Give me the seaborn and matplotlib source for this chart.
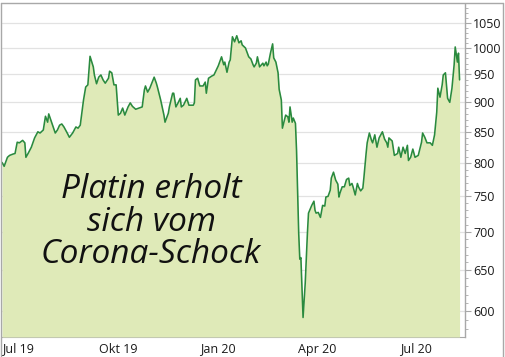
import matplotlib
matplotlib.use("Agg")
import matplotlib.pyplot as plt
import matplotlib.ticker as mticker
from matplotlib.lines import Line2D
import seaborn as sns
import pandas as pd
import numpy as np

dates = [
    "2019-06-16", "2019-06-18", "2019-06-21", "2019-06-23", "2019-06-26", "2019-06-28", "2019-06-30",
    "2019-07-02", "2019-07-05", "2019-07-07", "2019-07-08", "2019-07-10", "2019-07-13", "2019-07-16",
    "2019-07-19", "2019-07-21", "2019-07-24", "2019-07-26", "2019-07-28", "2019-07-29",
    "2019-08-01", "2019-08-04", "2019-08-06", "2019-08-08", "2019-08-10", "2019-08-12", "2019-08-15",
    "2019-08-17", "2019-08-20", "2019-08-23", "2019-08-25", "2019-08-27", "2019-08-30",
    "2019-09-01", "2019-09-03", "2019-09-05", "2019-09-08", "2019-09-09", "2019-09-11", "2019-09-13",
    "2019-09-15", "2019-09-17", "2019-09-19", "2019-09-22", "2019-09-23", "2019-09-25", "2019-09-27",
    "2019-09-29",
    "2019-10-01", "2019-10-03", "2019-10-05", "2019-10-07", "2019-10-10", "2019-10-12", "2019-10-14",
    "2019-10-17", "2019-10-20", "2019-10-23", "2019-10-25", "2019-10-26", "2019-10-28", "2019-10-30",
    "2019-11-03", "2019-11-05", "2019-11-06", "2019-11-09", "2019-11-12", "2019-11-13", "2019-11-16",
    "2019-11-17", "2019-11-20", "2019-11-21", "2019-11-23", "2019-11-25", "2019-11-27", "2019-11-28",
    "2019-11-30",
    "2019-12-03", "2019-12-05", "2019-12-09", "2019-12-10", "2019-12-11", "2019-12-13", "2019-12-15",
    "2019-12-18", "2019-12-20", "2019-12-21", "2019-12-23", "2019-12-26", "2019-12-28", "2019-12-31",
    "2020-01-01", "2020-01-04", "2020-01-06", "2020-01-07", "2020-01-09", "2020-01-11", "2020-01-12",
    "2020-01-14", "2020-01-16", "2020-01-18", "2020-01-20", "2020-01-22", "2020-01-23", "2020-01-26",
    "2020-01-29", "2020-01-31",
    "2020-02-02", "2020-02-03", "2020-02-05", "2020-02-06", "2020-02-08", "2020-02-11", "2020-02-12",
    "2020-02-14", "2020-02-15", "2020-02-16", "2020-02-18", "2020-02-20", "2020-02-21", "2020-02-23",
    "2020-02-25", "2020-02-26", "2020-02-28", "2020-02-29",
    "2020-03-03", "2020-03-05", "2020-03-06", "2020-03-07", "2020-03-09", "2020-03-10", "2020-03-12",
    "2020-03-13", "2020-03-14", "2020-03-15", "2020-03-16", "2020-03-17", "2020-03-19", "2020-03-21",
    "2020-03-23", "2020-03-24", "2020-03-27", "2020-03-29", "2020-03-30", "2020-03-31",
    "2020-04-02", "2020-04-04", "2020-04-06", "2020-04-08", "2020-04-09", "2020-04-11", "2020-04-13",
    "2020-04-14", "2020-04-16", "2020-04-18", "2020-04-20", "2020-04-21", "2020-04-22", "2020-04-24",
    "2020-04-26", "2020-04-28", "2020-04-30",
    "2020-05-01", "2020-05-03", "2020-05-04", "2020-05-06", "2020-05-08", "2020-05-09", "2020-05-11",
    "2020-05-13", "2020-05-14", "2020-05-16", "2020-05-17", "2020-05-19", "2020-05-21", "2020-05-22",
    "2020-05-24", "2020-05-26", "2020-05-28", "2020-05-31",
    "2020-06-02", "2020-06-04", "2020-06-05", "2020-06-06", "2020-06-09", "2020-06-11", "2020-06-14",
    "2020-06-15", "2020-06-17", "2020-06-19", "2020-06-21", "2020-06-23", "2020-06-24", "2020-06-26",
    "2020-06-28", "2020-06-30",
    "2020-07-03", "2020-07-06", "2020-07-07", "2020-07-09", "2020-07-11", "2020-07-14", "2020-07-16",
    "2020-07-18", "2020-07-20", "2020-07-21", "2020-07-23", "2020-07-25", "2020-07-26", "2020-07-28",
    "2020-07-29", "2020-07-30",
    "2020-08-01", "2020-08-03", "2020-08-05", "2020-08-06", "2020-08-08", "2020-08-09", "2020-08-10",
]

prices = [
    801, 795, 809, 812, 814, 815, 833,
    832, 836, 832, 809, 815, 825, 840,
    850, 848, 853, 876, 866, 880,
    864, 848, 853, 861, 863, 858, 848,
    841, 848, 858, 856, 861, 904,
    927, 931, 984, 964, 949, 933, 945,
    949, 940, 934, 943, 956, 953, 931,
    931,
    878, 881, 890, 878, 892, 899, 893,
    888, 890, 892, 922, 929, 918, 925,
    945, 934, 927, 904, 878, 866, 881,
    892, 916, 916, 892, 899, 907, 892,
    895,
    907, 895, 895, 899, 940, 943, 929,
    929, 936, 916, 943, 947, 949, 962,
    966, 983, 968, 973, 954, 973, 977,
    1022, 1012, 1024, 1010, 1014, 1006, 1000,
    983, 979,
    968, 964, 971, 983, 964, 971, 966,
    973, 966, 969, 990, 1008, 981, 973,
    953, 923, 904, 856,
    878, 875, 866, 892, 866, 873, 864,
    820, 759, 698, 664, 666, 593, 634,
    698, 726, 737, 743, 730, 726,
    727, 720, 737, 736, 749, 750, 759,
    777, 786, 774, 768, 749, 755, 764,
    764, 775, 777,
    766, 769, 764, 752, 769, 764, 758,
    762, 778, 815, 832, 848, 836, 832,
    845, 825, 840, 850,
    838, 832, 825, 840, 835, 812, 815,
    825, 809, 825, 815, 828, 804, 809,
    822, 809,
    812, 833, 848, 841, 832, 832, 828,
    845, 883, 925, 909, 931, 949, 953,
    929, 907,
    900, 925, 968, 1002, 973, 990, 940,
]

y_ticks = [600, 650, 700, 750, 800, 850, 900, 950, 1000, 1050]
x_tick_dates = ["2019-07-01", "2019-10-01", "2020-01-01", "2020-04-01", "2020-07-01"]
x_tick_labels = ["Jul 19", "Okt 19", "Jan 20", "Apr 20", "Jul 20"]
annotation = "Platin erholt\nsich vom\nCorona-Schock"

df = pd.DataFrame({"date": pd.to_datetime(dates), "price": prices})

sns.set_style("white")
plt.rcParams["font.family"] = ["Open Sans", "DejaVu Sans"]

W, H = 506, 357
fig = plt.figure(figsize=(W / 100, H / 100), dpi=100)
ax = fig.add_axes([2 / W, 20 / H, 463 / W, 333 / H])

line_col = "#2a8a3e"
fill_col = "#dfeab8"
grid_col = "#e2e2e2"
frame_col = "#a8a8a8"

ax.set_yscale("log")
ymin, ymax = 571, 1089
ax.fill_between(df["date"], df["price"], ymin, color=fill_col, lw=0, zorder=3)
sns.lineplot(data=df, x="date", y="price", ax=ax, color=line_col, lw=1.15, zorder=4)

ax.set_ylim(ymin, ymax)
ax.set_xlim(pd.Timestamp("2019-06-16"), pd.Timestamp("2020-08-15"))

ax.yaxis.set_major_locator(mticker.FixedLocator(y_ticks))
ax.yaxis.set_major_formatter(mticker.FixedFormatter([str(v) for v in y_ticks]))
ax.yaxis.set_minor_locator(mticker.FixedLocator([v for v in range(580, 1090, 10) if v % 50]))
ax.yaxis.set_minor_formatter(mticker.NullFormatter())
ax.yaxis.tick_right()
ax.yaxis.set_label_position("right")

ax.set_xticks(pd.to_datetime(x_tick_dates))
ax.set_xticklabels(x_tick_labels)

ax.tick_params(axis="y", which="major", direction="out", length=4, width=0.8, color=frame_col,
               labelsize=9, labelcolor="#1a1a1a", pad=2)
ax.tick_params(axis="y", which="minor", direction="out", length=2, width=0.6, color=frame_col)
ax.tick_params(axis="x", which="major", direction="out", length=3, width=0.8, color=frame_col,
               labelsize=9, labelcolor="#1a1a1a", pad=1)

ax.set_xlabel("")
ax.set_ylabel("")
ax.grid(axis="y", color=grid_col, lw=0.9, zorder=0)
ax.set_axisbelow(True)

for s in ["left", "top"]:
    ax.spines[s].set_visible(False)
ax.spines["right"].set_color(frame_col)
ax.spines["right"].set_linewidth(1.0)
ax.spines["bottom"].set_color(frame_col)
ax.spines["bottom"].set_linewidth(0.8)

ax.text(0.322, 0.345, annotation, transform=ax.transAxes, ha="center", va="center",
        fontsize=24, style="italic", color="#111111", linespacing=0.98,
        family=["Open Sans", "DejaVu Sans"], zorder=6)

# outer frame
fig.add_artist(Line2D([1.5 / W, 1.5 / W], [0, 1 - 3 / H], color=frame_col, lw=1.0))
fig.add_artist(Line2D([1.5 / W, 503.5 / W], [1 - 3 / H, 1 - 3 / H], color=frame_col, lw=1.0))
fig.add_artist(Line2D([503.5 / W, 503.5 / W], [0, 1 - 3 / H], color=frame_col, lw=1.0))

fig.savefig("out.png", dpi=100)
